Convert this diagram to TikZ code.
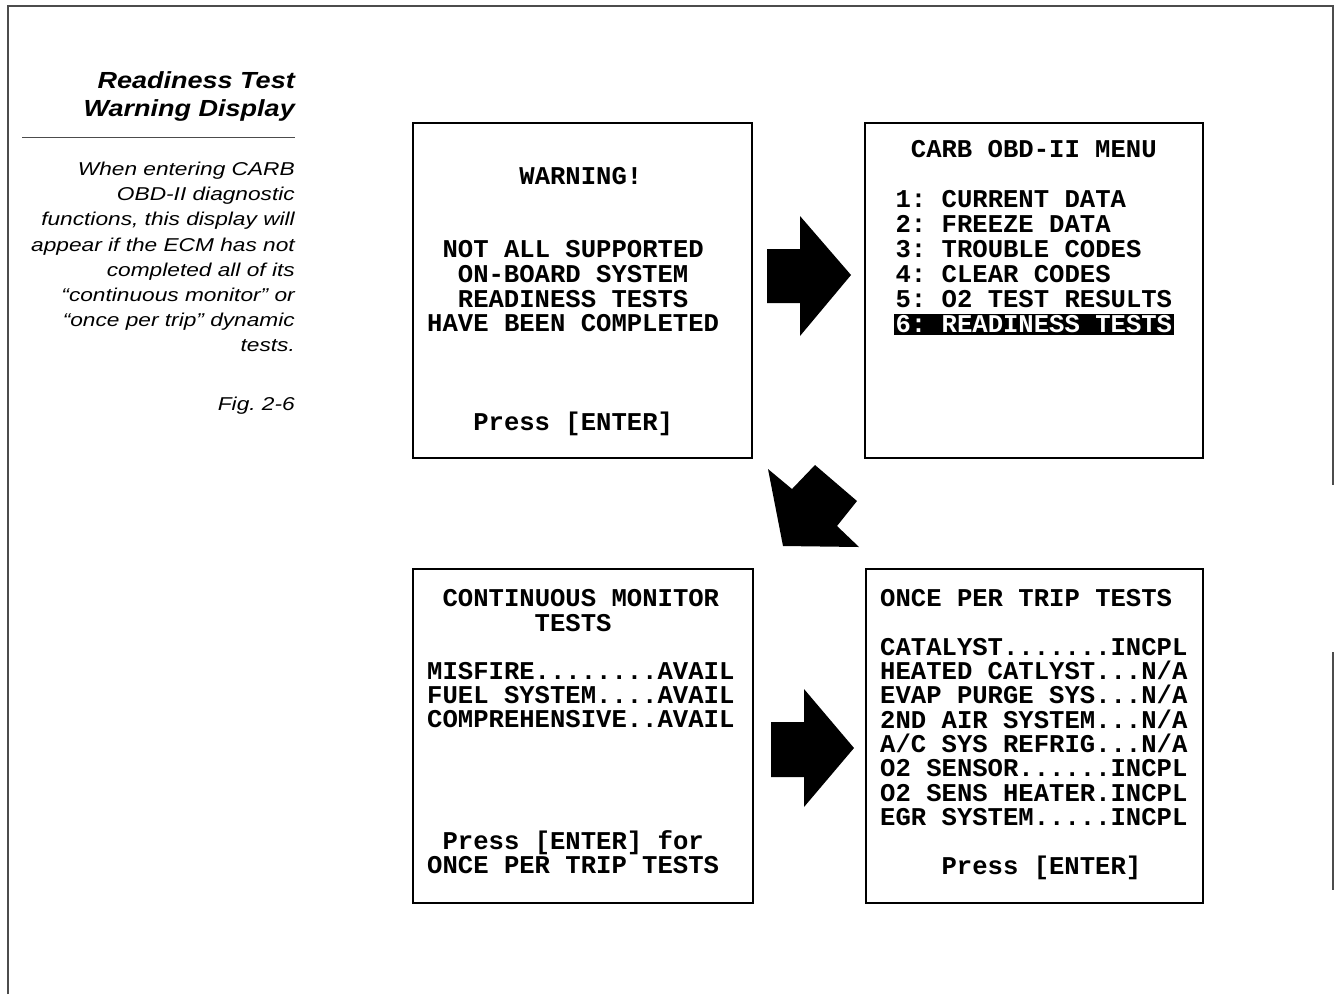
\documentclass[tikz,border=0pt]{standalone}
\usepackage{fontspec}
\newfontfamily\scrfont{Liberation Mono}
\newfontfamily\ttlfont{Liberation Sans}[FakeStretch=1.16]
\newfontfamily\bodyfont{Liberation Sans}[FakeStretch=1.22]
\begin{document}
\frenchspacing
\begin{tikzpicture}[x=1pt,y=-1pt,
  scr/.style={font=\frenchspacing\scrfont\bfseries\fontsize{25.6}{25.6}\selectfont, inner sep=0pt, anchor=base west},
  hl/.style={scr, fill=black, text=white, inner xsep=2pt, text height=18pt, text depth=3pt, inner ysep=0pt},
  side/.style={font=\frenchspacing\bodyfont\itshape\fontsize{18.6}{25}\selectfont, inner sep=0pt, anchor=base east},
  ttl/.style={font=\ttlfont\bfseries\itshape\fontsize{23.3}{28}\selectfont, inner sep=0pt, anchor=base east},
  screen/.style={draw, line width=1.4pt, rectangle, inner sep=0pt},
  blk/.style={fill=black, draw=none},
  frame/.style={draw=black!70, line width=1.2pt}]
\useasboundingbox (0,0) rectangle (1335,994);

% outer frame
\draw[frame] (8,994) -- (8,6) -- (1333,6) -- (1333,485);
\draw[frame] (1333,652) -- (1333,890);

% side text
\node[ttl] (t1) at (295,88) {Readiness Test};
\node[ttl] (t2) at (295,116) {Warning Display};
\draw[black!70, line width=1pt] (22,137) -- (295,137);
\foreach \t [count=\i] in {{When entering CARB},{OBD-II diagnostic},{functions, this display will},{appear if the ECM has not},{completed all of its},{“continuous monitor” or},{“once per trip” dynamic},{tests.}}
  \node[side, name=b\i] at (295,{175.5+25.2*(\i-1)}) {\t};
\node[side] (fig) at (295,410) {Fig. 2-6};

% screens
\node[screen, minimum width=339pt, minimum height=335pt] (s1) at (582.5,290.5) {};
\node[screen, minimum width=338pt, minimum height=335pt] (s2) at (1034,290.5) {};
\node[screen, minimum width=340pt, minimum height=334pt] (s3) at (583,736) {};
\node[screen, minimum width=337pt, minimum height=334pt] (s4) at (1034.5,736) {};

% screen 1
\node[scr] (a1) at (519.2,184) {WARNING!};
\node[scr] (a2) at (442.4,257) {NOT ALL SUPPORTED};
\node[scr] (a3) at (457.7,282) {ON-BOARD SYSTEM};
\node[scr] (a4) at (457.7,307) {READINESS TESTS};
\node[scr] (a5) at (427,331.5) {HAVE BEEN COMPLETED};
\node[scr] (a6) at (473.1,430) {Press [ENTER]};

% screen 2
\node[scr] (c1) at (910.7,157) {CARB OBD-II MENU};
\node[scr] (c2) at (895.4,207) {1: CURRENT DATA};
\node[scr] (c3) at (895.4,232) {2: FREEZE DATA};
\node[scr] (c4) at (895.4,257) {3: TROUBLE CODES};
\node[scr] (c5) at (895.4,282) {4: CLEAR CODES};
\node[scr] (c6) at (895.4,307) {5: O2 TEST RESULTS};
\node[hl] (c7) at (893.4,332) {6: READINESS TESTS};

% screen 3
\node[scr] (d1) at (442.4,606.7) {CONTINUOUS MONITOR};
\node[scr] (d2) at (534.5,631) {TESTS};
\node[scr] (d3) at (427,679.3) {MISFIRE........AVAIL};
\node[scr] (d4) at (427,703.5) {FUEL SYSTEM....AVAIL};
\node[scr] (d5) at (427,727.7) {COMPREHENSIVE..AVAIL};
\node[scr] (d6) at (442.4,849) {Press [ENTER] for};
\node[scr] (d7) at (427,873) {ONCE PER TRIP TESTS};

% screen 4
\node[scr] (e1) at (880,606.7) {ONCE PER TRIP TESTS};
\node[scr] (e2) at (880,655.3) {CATALYST.......INCPL};
\node[scr] (e3) at (880,679.6) {HEATED CATLYST...N/A};
\node[scr] (e4) at (880,703.9) {EVAP PURGE SYS...N/A};
\node[scr] (e5) at (880,728.2) {2ND AIR SYSTEM...N/A};
\node[scr] (e6) at (880,752.5) {A/C SYS REFRIG...N/A};
\node[scr] (e7) at (880,776.8) {O2 SENSOR......INCPL};
\node[scr] (e8) at (880,801.1) {O2 SENS HEATER.INCPL};
\node[scr] (e9) at (880,825.4) {EGR SYSTEM.....INCPL};
\node[scr] (e10) at (941.4,874) {Press [ENTER]};

% block arrows
\path[blk] (767,249) -- (800,249) -- (800,216) -- (851,275) -- (800,336) -- (800,303) -- (767,303) -- cycle;
\path[blk] (768,469) -- (792,489) -- (815,465) -- (857,501) -- (837,526) -- (859,547) -- (783,546) -- cycle;
\path[blk] (771,722) -- (804,722) -- (804,689) -- (854,748) -- (804,807) -- (804,777) -- (771,777) -- cycle;
\end{tikzpicture}
\end{document}
